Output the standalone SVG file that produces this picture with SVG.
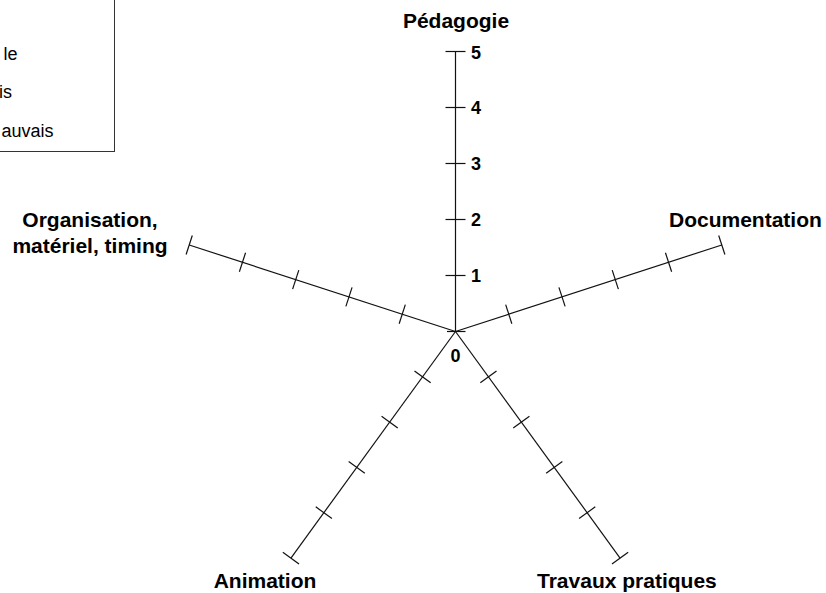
<svg xmlns="http://www.w3.org/2000/svg" xmlns:xlink="http://www.w3.org/1999/xlink" width="826" height="593" viewBox="0 0 826 593">
  <style>
    .ax { stroke: #111; stroke-width: 1.2; fill: none; }
    .lbl { font-family: "Liberation Sans", Arial, sans-serif; font-weight: bold; font-size: 21px; fill: #000; }
    .val { font-family: "Liberation Sans", Arial, sans-serif; font-weight: bold; font-size: 18px; fill: #000; }
    .leg { font-family: "Liberation Sans", Arial, sans-serif; font-size: 18px; fill: #000; }
  </style>
  <defs>
    <g id="axis">
      <line class="ax" x1="0" y1="0" x2="0" y2="-280"/>
      <line class="ax" x1="-10" y1="-56" x2="10" y2="-56"/>
      <line class="ax" x1="-10" y1="-112" x2="10" y2="-112"/>
      <line class="ax" x1="-10" y1="-168" x2="10" y2="-168"/>
      <line class="ax" x1="-10" y1="-224" x2="10" y2="-224"/>
      <line class="ax" x1="-10" y1="-280" x2="10" y2="-280"/>
    </g>
  </defs>
  <rect width="826" height="593" fill="#fff"/>

  <g id="legend">
    <rect x="-10" y="-10" width="124.5" height="161.5" fill="#fff" stroke="#333" stroke-width="1"/>
    <text class="leg" x="17.5" y="60" text-anchor="end">le</text>
    <text class="leg" x="12" y="97.5" text-anchor="end">is</text>
    <text class="leg" x="53.5" y="136.5" text-anchor="end">auvais</text>
  </g>

  <g id="connectors">
    <use xlink:href="#axis" transform="translate(455.5,331.5)"/>
    <line class="ax" x1="447" y1="331.5" x2="465.5" y2="331.5"/>
    <use xlink:href="#axis" transform="translate(455.5,331.5) rotate(72)"/>
    <use xlink:href="#axis" transform="translate(455.5,331.5) rotate(144)"/>
    <use xlink:href="#axis" transform="translate(455.5,331.5) rotate(216)"/>
    <use xlink:href="#axis" transform="translate(455.5,331.5) rotate(288)"/>
  </g>

  <g id="scale">
    <text class="val" x="455.5" y="361.5" text-anchor="middle">0</text>
    <text class="val" x="471" y="282">1</text>
    <text class="val" x="471" y="226">2</text>
    <text class="val" x="471" y="170">3</text>
    <text class="val" x="471" y="114">4</text>
    <text class="val" x="471" y="58.5">5</text>
  </g>

  <g id="pedagogie"><text class="lbl" x="456" y="28" text-anchor="middle">Pédagogie</text></g>
  <g id="documentation"><text class="lbl" x="669" y="227">Documentation</text></g>
  <g id="organisation">
    <text class="lbl" x="90" y="227" text-anchor="middle">Organisation,</text>
    <text class="lbl" x="90" y="253" text-anchor="middle">matériel, timing</text>
  </g>
  <g id="animation"><text class="lbl" x="265" y="588" text-anchor="middle">Animation</text></g>
  <g id="travaux"><text class="lbl" x="537" y="588">Travaux pratiques</text></g>
</svg>
